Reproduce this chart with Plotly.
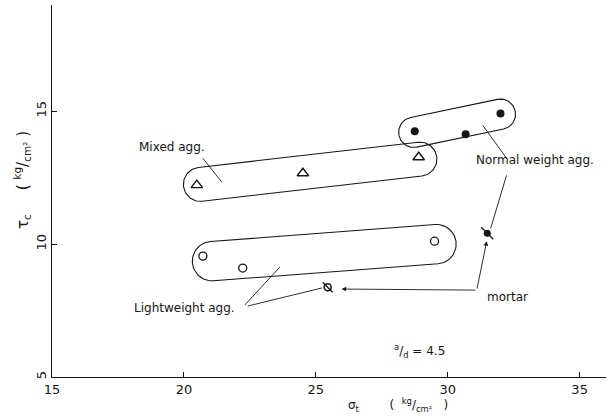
import numpy as np
import plotly.graph_objects as go

# ---- data ----
normal_x = [28.75, 30.68, 32.0]
normal_y = [14.25, 14.14, 14.92]
mixed_x = [20.49, 24.51, 28.9]
mixed_y = [12.22, 12.67, 13.27]
light_x = [20.72, 22.23, 29.5]
light_y = [9.55, 9.10, 10.11]
mortar_light_x = [25.45]
mortar_light_y = [8.38]
mortar_normal_x = [31.5]
mortar_normal_y = [10.41]

x_ticks = [15, 20, 25, 30, 35]
y_ticks = [5, 10, 15]

# enclosing loops: end centres (x1, y1, x2, y2) and half-width, data units
loop_mixed = (20.62, 12.25, 28.95, 13.2, 0.64)
loop_light = (21.06, 9.36, 29.58, 10.0, 0.74)
loop_normal = (28.71, 14.21, 32.0, 14.89, 0.57)

INK = "#161616"
FONT = "DejaVu Sans, Liberation Sans, sans-serif"


def capsule(x1, y1, x2, y2, r, n=40):
    dx, dy = x2 - x1, y2 - y1
    ang = np.arctan2(dy, dx)
    t1 = np.linspace(ang + np.pi / 2, ang + 3 * np.pi / 2, n)
    t2 = np.linspace(ang - np.pi / 2, ang + np.pi / 2, n)
    xs = np.concatenate([x1 + r * np.cos(t1), x2 + r * np.cos(t2), [x1 + r * np.cos(t1[0])]])
    ys = np.concatenate([y1 + r * np.sin(t1), y2 + r * np.sin(t2), [y1 + r * np.sin(t1[0])]])
    return xs, ys


fig = go.Figure()

for lp in (loop_mixed, loop_light, loop_normal):
    xs, ys = capsule(*lp)
    fig.add_trace(go.Scatter(x=xs, y=ys, mode="lines", line=dict(color=INK, width=1.1),
                             hoverinfo="skip", showlegend=False))

fig.add_trace(go.Scatter(x=mixed_x, y=mixed_y, mode="markers", name="Mixed agg.",
                         marker=dict(symbol="triangle-up-open", size=10, color=INK, line=dict(width=1.4))))
fig.add_trace(go.Scatter(x=light_x, y=light_y, mode="markers", name="Lightweight agg.",
                         marker=dict(symbol="circle-open", size=8, color=INK, line=dict(width=1.3))))
fig.add_trace(go.Scatter(x=normal_x, y=normal_y, mode="markers", name="Normal weight agg.",
                         marker=dict(symbol="circle", size=8, color=INK)))
fig.add_trace(go.Scatter(x=mortar_light_x, y=mortar_light_y, mode="markers", name="mortar (light)",
                         marker=dict(symbol="circle-open", size=7, color=INK, line=dict(width=1.6))))
fig.add_trace(go.Scatter(x=mortar_light_x, y=mortar_light_y, mode="markers", showlegend=False,
                         marker=dict(symbol="line-nw", size=10, color=INK, line=dict(width=1.3, color=INK))))
fig.add_trace(go.Scatter(x=mortar_normal_x, y=mortar_normal_y, mode="markers", name="mortar (normal)",
                         marker=dict(symbol="circle", size=7, color=INK)))
fig.add_trace(go.Scatter(x=mortar_normal_x, y=mortar_normal_y, mode="markers", showlegend=False,
                         marker=dict(symbol="line-nw", size=12, color=INK, line=dict(width=1.4, color=INK))))

# leader lines (no heads)
leaders = [
    (20.72, 13.23, 21.44, 12.33),
    (22.31, 7.71, 23.64, 9.14),
    (22.42, 7.67, 25.23, 8.35),
    (31.33, 14.47, 32.23, 13.23),
    (32.23, 12.59, 31.63, 10.6),
]
for x0, y0, x1, y1 in leaders:
    fig.add_shape(type="line", x0=x0, y0=y0, x1=x1, y1=y1, xref="x", yref="y",
                  line=dict(color=INK, width=0.9))

# mortar arrows
corner = (31.1, 8.27)
for tx, ty in [(25.98, 8.31), (31.48, 10.11)]:
    fig.add_annotation(x=tx, y=ty, ax=corner[0], ay=corner[1], xref="x", yref="y",
                       axref="x", ayref="y", text="", showarrow=True, arrowhead=2,
                       arrowsize=1.0, arrowwidth=0.9, arrowcolor=INK, standoff=0)

labels = [
    ("Mixed agg.", 19.55, 13.65),
    ("Lightweight agg.", 20.04, 7.59),
    ("Normal weight agg.", 33.3, 13.16),
    ("mortar", 32.27, 8.0),
    ("<sup>a</sup>/<sub>d</sub> = 4.5", 28.94, 5.98),
]
for txt, x, y in labels:
    fig.add_annotation(x=x, y=y, xref="x", yref="y", text=txt, showarrow=False,
                       font=dict(family=FONT, size=12, color=INK))

# axis titles
fig.add_annotation(x=0.625, y=-0.076, xref="paper", yref="paper", yanchor="middle",
                   text="σ<sub>t</sub>        (&nbsp;&nbsp;<sup>kg</sup>/<sub>cm²</sub>&nbsp;&nbsp;&nbsp;)",
                   showarrow=False, font=dict(family=FONT, size=12, color=INK))
fig.add_annotation(x=-0.054, y=0.53, xref="paper", yref="paper", xanchor="center",
                   text="τ<sub>c</sub>     ( <sup>kg</sup>/<sub>cm²</sub> )", showarrow=False,
                   textangle=-90, font=dict(family=FONT, size=15, color=INK))

fig.update_layout(
    width=613, height=418,
    margin=dict(l=52, r=7, t=5, b=41),
    paper_bgcolor="white", plot_bgcolor="white",
    showlegend=False,
    xaxis=dict(range=[15, 36], tickvals=x_ticks, ticks="inside", ticklen=5, tickwidth=1,
               tickcolor=INK, showline=True, linecolor=INK, linewidth=1.3, showgrid=False,
               zeroline=False, tickfont=dict(family=FONT, size=13, color=INK)),
    yaxis=dict(range=[5, 19], tickvals=y_ticks, ticks="inside", ticklen=5, tickwidth=1,
               tickcolor=INK, showline=True, linecolor=INK, linewidth=1.3, showgrid=False,
               zeroline=False, tickangle=-90, tickfont=dict(family=FONT, size=13, color=INK)),
)

fig.write_html("out.html")
